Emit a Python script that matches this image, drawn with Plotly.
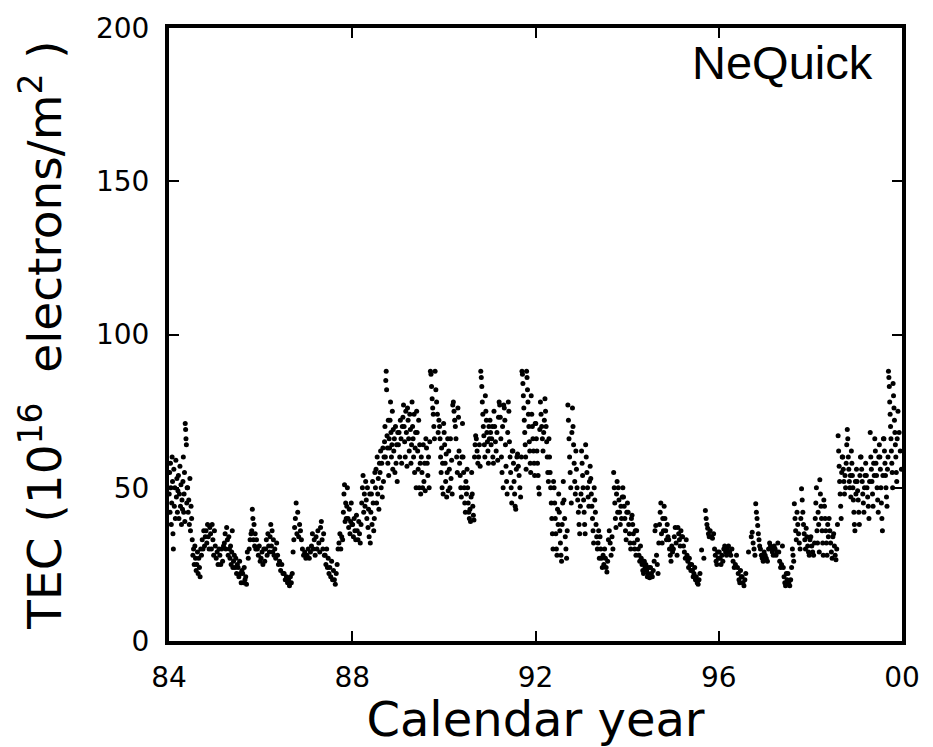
import plotly.graph_objects as go

# NeQuick total electron content, 1984-2000.
# Each year holds ten 0.1-year columns; each column lists the TEC readings
# (10^16 electrons/m^2) that fall inside it.
tec_1984 = [
    [48, 55, 42, 58, 50, 38, 45, 60, 52, 35, 30],
    [56, 44, 50, 40, 59, 47, 53, 42, 49],
    [54, 40, 48, 57, 44, 51, 38, 46, 43],
    [52, 60, 42, 48, 55, 39, 71, 69, 66, 64, 45, 50],
    [50, 42, 46, 38, 53, 36, 44, 40],
    [33, 28, 30, 25, 31, 27, 23],
    [25, 29, 22, 27, 24, 21, 30],
    [28, 33, 30, 36, 31, 34],
    [36, 32, 38, 34, 30, 37],
    [35, 30, 38, 33, 28, 36],
]
tec_1985 = [
    [31, 27, 29, 25, 30],
    [28, 25, 30, 26, 31],
    [32, 35, 30, 37, 33, 28],
    [34, 30, 27, 31, 25, 29, 36, 24],
    [26, 28, 24, 27, 22, 25],
    [24, 21, 26, 22, 19, 23],
    [22, 19, 24, 20, 21, 18.5],
    [29, 27, 30, 33, 35],
    [36, 43, 40, 33, 38, 31, 35, 30],
    [33, 30, 28, 31, 26],
]
tec_1986 = [
    [27, 29, 25, 30, 26],
    [30, 33, 28, 35, 31, 29],
    [34, 38, 31, 36, 29, 33, 28],
    [30, 27, 32, 28, 25],
    [26, 23, 25, 22],
    [22, 20, 21, 19],
    [20, 18, 21, 19, 22],
    [29, 33, 37, 40, 45, 35],
    [42, 34, 38, 36, 33],
    [30, 28, 29, 27],
]
tec_1987 = [
    [28, 30, 27, 29],
    [31, 35, 30, 33, 28],
    [34, 30, 36, 32, 29],
    [37, 39, 33, 30, 35, 28],
    [28, 25, 30, 24, 27, 22],
    [24, 21, 26, 20, 23],
    [20, 18.5, 22, 25, 30],
    [32, 35, 30, 34, 33],
    [42, 48, 51, 39, 45, 40, 44, 50],
    [40, 37, 43, 35, 39, 45, 38],
]
tec_1988 = [
    [38, 34, 40, 36, 33, 41],
    [36, 33, 39, 35, 32, 38],
    [45, 50, 54, 42, 48, 44, 52],
    [46, 40, 50, 37, 43, 34, 48, 32],
    [42, 48, 38, 52, 45, 36, 40, 55],
    [50, 56, 45, 60, 48, 53, 43, 58],
    [55, 62, 50, 58, 47, 63, 52, 60],
    [65, 70, 60, 85, 88, 82, 67, 63, 58, 72, 54],
    [66, 63, 72, 78, 68, 60, 64, 75, 56, 69],
    [62, 66, 55, 70, 58, 64, 52, 68],
]
tec_1989 = [
    [64, 68, 60, 72, 66, 58, 70],
    [73, 77, 70, 65, 60, 75, 68, 57],
    [76, 72, 66, 62, 74, 69, 58, 64],
    [78, 70, 66, 60, 74, 55, 63, 68, 50],
    [75, 68, 62, 56, 72, 50, 64, 58, 48],
    [60, 55, 50, 64, 52, 58, 49],
    [66, 63, 58, 54, 60, 50, 65],
    [88, 87, 83, 79, 76, 74, 70, 66],
    [88, 82, 78, 74, 68, 72],
    [70, 66, 60, 55, 63, 50, 58, 48, 71],
]
tec_1990 = [
    [68, 64, 58, 52, 61, 47, 55, 66, 49],
    [62, 56, 50, 66, 53, 59, 48, 77],
    [78, 75, 72, 70, 66, 60, 55],
    [76, 73, 62, 58, 54, 50, 47, 60],
    [71, 60, 55, 50, 45, 42, 52, 48],
    [56, 50, 45, 42, 40, 43, 39, 47],
    [55, 48, 44, 41, 39.5, 60, 64, 67],
    [66, 62, 58, 60, 64, 57],
    [88, 86, 83, 78, 74, 70, 67, 64, 60],
    [80, 75, 72, 68, 65, 62, 58, 70, 66],
]
tec_1991 = [
    [72, 68, 64, 66, 70, 60, 58, 75],
    [70, 65, 62, 68, 59, 73],
    [78, 77, 73, 66, 60, 55, 70, 50],
    [77, 76, 72, 64, 57, 52, 48, 68],
    [78, 75, 65, 60, 55, 50, 45, 62],
    [62, 58, 52, 48, 44, 43, 56, 60],
    [61, 57, 54, 50, 47, 60],
    [88, 87, 84, 80, 76, 72, 68, 64, 60, 56],
    [88, 86, 82, 78, 74, 70, 65, 62, 58, 55],
    [80, 74, 70, 66, 62, 58, 54, 71],
]
tec_1992 = [
    [71, 66, 62, 58, 54, 50, 48, 69],
    [78, 74, 70, 66, 62, 68, 72],
    [79, 75, 70, 65, 60, 55, 52, 66],
    [60, 55, 50, 45, 40, 35, 30, 52],
    [50, 45, 40, 35, 30, 28, 43, 38],
    [48, 42, 36, 32, 28, 26, 38, 45],
    [52, 46, 40, 34, 30, 27, 36],
    [77, 72, 66, 60, 55, 50, 45, 68],
    [76, 70, 64, 58, 52, 48, 62, 56],
    [50, 46, 42, 38, 35, 44, 48],
]
tec_1993 = [
    [62, 58, 54, 50, 46, 42, 38, 35, 64],
    [60, 55, 50, 47, 44, 52, 57],
    [53, 48, 44, 40, 36, 32, 50, 46],
    [42, 38, 34, 30, 32, 36, 27],
    [34, 30, 27, 24, 28, 25],
    [30, 27, 24, 22.5, 26, 33],
    [36, 32, 28, 34, 30],
    [55, 50, 45, 40, 37, 48, 52, 42],
    [50, 46, 42, 38, 44, 40, 47],
    [50, 47, 44, 40, 36, 33, 42],
]
tec_1994 = [
    [45, 42, 38, 35, 32, 30, 40],
    [41, 38, 35, 32, 30, 36, 28],
    [36, 33, 30, 28, 26, 31],
    [27, 25, 23, 22, 26, 24],
    [25, 23, 21, 22, 24, 20.6],
    [24, 22, 21, 23, 26],
    [36, 37.7, 28, 25, 22, 32],
    [38, 42, 45, 35, 32, 40, 36],
    [44, 40, 36, 33, 38, 34],
    [33, 30, 28, 26, 31, 29],
]
tec_1995 = [
    [30, 34, 37, 32, 28],
    [37, 35, 33, 31, 36, 34],
    [34, 31, 29, 27, 33],
    [28, 26, 24, 27, 25, 23],
    [25, 23, 21, 22, 24, 20],
    [21, 19, 18.5, 20, 22],
    [29.7, 27],
    [42.6, 40, 38, 36.8, 35, 34],
    [36, 34, 33.5, 35],
    [30, 28, 26, 25, 29, 27],
]
tec_1996 = [
    [29, 27, 25, 28, 26],
    [30, 31, 29, 28, 30],
    [31, 29, 28, 30],
    [26, 24, 25, 28],
    [24, 22, 20, 19, 23, 21],
    [21, 19, 18, 20, 22],
    [29],
    [34, 35.5, 32, 30, 28],
    [44.8, 42, 40, 37.7, 35, 33, 31],
    [30, 28, 27, 26, 29],
]
tec_1997 = [
    [28, 27, 26, 30],
    [32, 31, 30, 29, 28],
    [31, 30, 28, 29, 32],
    [29, 26, 24, 25, 31],
    [24, 21, 19, 18, 22, 20],
    [22, 19, 18, 20, 24],
    [30, 28, 26, 44.8, 40, 36, 33],
    [42, 38, 35, 32, 30, 40],
    [49.7, 46, 42, 38, 35, 33, 30],
    [36.8, 34, 31, 29, 28, 33],
]
tec_1998 = [
    [34, 31, 29, 28, 32],
    [40, 45, 50, 36, 32, 42, 38, 29],
    [52.6, 48, 44, 40, 36, 32, 28, 46],
    [44, 40, 36, 32, 28, 38, 34],
    [40, 36, 32, 29, 27, 34],
    [35, 31, 28, 26.5, 30, 38],
    [67, 62, 57, 52, 48, 44, 40, 55, 60],
    [60, 56, 52, 48, 54, 50, 58, 64],
    [69, 66, 60, 56, 52, 50, 54, 47, 62],
    [58, 54, 50, 46, 42, 38, 36, 52, 48],
]
tec_1999 = [
    [56, 52, 49, 46, 42, 38, 54, 60],
    [60, 56, 52, 48, 45, 42, 50, 54],
    [58, 54, 50, 47, 44, 40, 52],
    [68, 60, 56, 52, 48, 44, 58, 54],
    [66, 62, 58, 54, 50, 46, 42, 60],
    [64, 60, 56, 50, 45, 40, 36, 54, 66],
    [66, 62, 58, 54, 50, 47, 44, 56, 60],
    [88, 86, 83, 78, 74, 70, 66, 62, 58, 55, 50],
    [84, 80, 76, 72, 68, 64, 60, 55, 52, 66],
    [75, 68, 62, 56],
]

first_year = 84
column_width = 0.1
tick_years = [84, 88, 92, 96, 100]
tick_labels = ["84", "88", "92", "96", "00"]
tec_ticks = [0, 50, 100, 150, 200]

by_year = [tec_1984, tec_1985, tec_1986, tec_1987, tec_1988, tec_1989,
           tec_1990, tec_1991, tec_1992, tec_1993, tec_1994, tec_1995,
           tec_1996, tec_1997, tec_1998, tec_1999]

# spread the readings of each column evenly across its 0.1-year span
t, tec = [], []
for k, columns in enumerate(by_year):
    for b, col in enumerate(columns):
        start = first_year + k + b * column_width
        n = len(col)
        for i, v in enumerate(col):
            t.append(start + (i + 0.5) * column_width / n)
            tec.append(v)

fig = go.Figure(
    go.Scatter(
        x=t, y=tec, mode="markers",
        marker=dict(color="black", size=5, line=dict(width=0)),
        hoverinfo="skip",
    )
)

axis_common = dict(
    showline=True, linewidth=4, linecolor="black", mirror="ticks",
    ticks="inside", ticklen=10, tickwidth=2, tickcolor="black",
    showgrid=False, zeroline=False,
    tickfont=dict(family="DejaVu Sans", size=28, color="black"),
)

fig.update_layout(
    width=933, height=747,
    margin=dict(l=169, r=31, t=18, b=106),
    paper_bgcolor="white", plot_bgcolor="white",
    showlegend=False,
    xaxis=dict(
        range=[84, 100], tickvals=tick_years, ticktext=tick_labels,
        ticklabelstandoff=8,
        title=dict(text="Calendar year", standoff=4,
                   font=dict(family="DejaVu Sans", size=48, color="black")),
        **axis_common,
    ),
    yaxis=dict(
        range=[0, 200], tickvals=tec_ticks,
        ticklabelstandoff=10,
        title=dict(text="TEC (10<sup>16</sup>  electrons/m<sup>2</sup> )", standoff=20,
                   font=dict(family="DejaVu Sans", size=47, color="black")),
        **axis_common,
    ),
    annotations=[
        dict(text="NeQuick", xref="paper", yref="paper", x=0.963, y=0.99,
             xanchor="right", yanchor="top", showarrow=False,
             font=dict(family="Liberation Sans", size=47, color="black")),
    ],
)

fig.write_html("out.html")
